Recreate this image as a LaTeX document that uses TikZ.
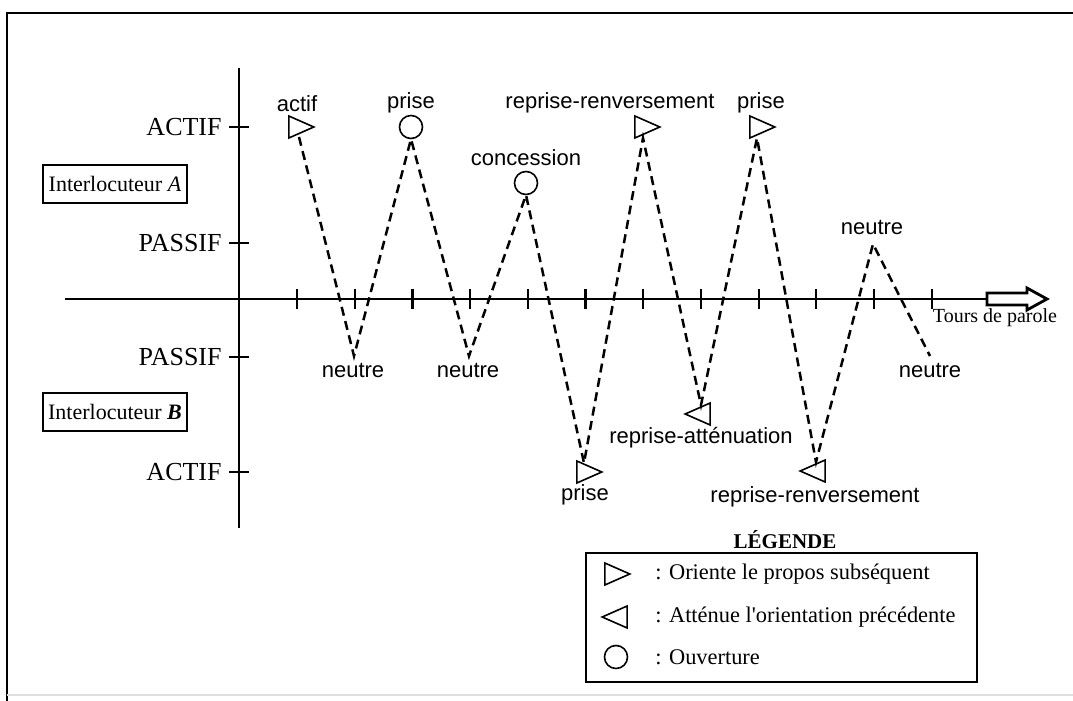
\documentclass[tikz,border=0pt]{standalone}
\usepackage{fontspec}
\setmainfont{Liberation Serif}
\setsansfont{Liberation Sans}
\usetikzlibrary{shapes.geometric}

\begin{document}
\begin{tikzpicture}[x=0.5pt,y=-0.5pt,
  lab/.style={font=\sffamily\fontsize{11}{13}\selectfont, inner sep=0pt},
  axlab/.style={font=\fontsize{13}{15}\selectfont, anchor=east, inner sep=0pt},
  tri/.style={draw, isosceles triangle, isosceles triangle stretches, minimum width=11pt, minimum height=12.5pt, inner sep=0pt, line width=0.8pt},
  tril/.style={tri, shape border rotate=180},
  circ/.style={draw, circle, minimum size=11.5pt, inner sep=0pt, line width=0.8pt},
  zig/.style={line width=1.25pt, dash pattern=on 4.5pt off 2.8pt},
  axis/.style={line width=1.4pt},
  ibox/.style={draw, line width=0.9pt, minimum width=72pt, minimum height=19pt, inner sep=0pt, font=\fontsize{11}{12}\selectfont},
  legtxt/.style={anchor=west, inner sep=0pt, font=\fontsize{11.2}{13}\selectfont}
]
\useasboundingbox (0,0) rectangle (1073,701);

% frame (cropped scan)
\draw[line width=1.1pt] (7,701) -- (7,13) -- (1073,13);
\draw[gray!25, line width=0.8pt] (7,695) -- (1073,695);

% axes
\coordinate (xs) at (65,299);
\coordinate (xe) at (987,299);
\coordinate (ys) at (239,68);
\coordinate (ye) at (239,528);
\draw[axis] (xs) -- (xe);
\draw[axis] (ys) -- (ye);
\draw[axis, fill=white] (987,293) -- (1027,293) -- (1027,288) -- (1047,299) -- (1027,310) -- (1027,305) -- (987,305) -- cycle;
\node[inner sep=0pt, font=\fontsize{10}{11}\selectfont] (tdp) at (995,318) {Tours de parole};

% x ticks
\foreach \i in {0,...,11}{
  \draw[line width=1.1pt] ({297+57.7*\i},289) -- ({297+57.7*\i},309);
}
% y ticks and labels
\foreach \yy in {127,243,357,472}{
  \draw[line width=1.1pt] (229,\yy) -- (249,\yy);
}
\node[axlab] (aA) at (222,127) {ACTIF};
\node[axlab] (pA) at (222,243) {PASSIF};
\node[axlab] (pB) at (222,357) {PASSIF};
\node[axlab] (aB) at (222,472) {ACTIF};

\node[ibox] (iA) at (115,184) {Interlocuteur \textit{A}};
\node[ibox] (iB) at (115,412) {Interlocuteur \textbf{\textit{B}}};

% markers
\node[tri] (m1) at (296,127) {};
\node[circ] (m3) at (411,127) {};
\node[circ] (m5) at (526,183) {};
\node[tri] (m6) at (584,472) {};
\node[tri] (m7) at (642,127) {};
\node[tril] (m8) at (703,414) {};
\node[tri] (m9) at (757,127) {};
\node[tril] (m10) at (818,471) {};

% line end points
\coordinate (e1) at (299,137);
\coordinate (e2) at (354,356);
\coordinate (e3) at (411,139);
\coordinate (e4) at (469,356);
\coordinate (e5) at (526,195);
\coordinate (e6) at (584,463);
\coordinate (e7) at (643,138);
\coordinate (e8) at (701,405);
\coordinate (e9) at (757,138);
\coordinate (e10) at (816,462);
\coordinate (e11) at (873,244);
\coordinate (e12) at (930,356);
\draw[zig] (e1) -- (e2) -- (e3) -- (e4) -- (e5) -- (e6) -- (e7) -- (e8) -- (e9) -- (e10) -- (e11) -- (e12);

% labels
\node[lab] (l1) at (297,104) {actif};
\node[lab] (l3) at (411,103) {prise};
\node[lab] (l5) at (526,158) {concession};
\node[lab] (l7) at (610,103) {reprise-renversement};
\node[lab] (l9) at (761,103) {prise};
\node[lab] (l11) at (872,227) {neutre};
\node[lab] (l2) at (353,370) {neutre};
\node[lab] (l4) at (468,370) {neutre};
\node[lab] (l12) at (930,370) {neutre};
\node[lab] (l6) at (585,495) {prise};
\node[lab] (l8) at (701,438) {reprise-atténuation};
\node[lab] (l10) at (815,497) {reprise-renversement};

% legend
\node[inner sep=0pt, font=\bfseries\fontsize{10.5}{12}\selectfont] (lg) at (785,540) {LÉGENDE};
\draw[line width=0.9pt] (586,553) rectangle (977,682);
\node[tri] (lm1) at (612,574) {};
\node[tril] (lm2) at (620,617) {};
\node[circ] (lm3) at (616,657) {};
\node[legtxt] (lt1) at (655,574) {: Oriente le propos subséquent};
\node[legtxt] (lt2) at (655,617) {: Atténue l\textquotesingle orientation précédente};
\node[legtxt] (lt3) at (655,657) {: Ouverture};
\end{tikzpicture}
\end{document}
